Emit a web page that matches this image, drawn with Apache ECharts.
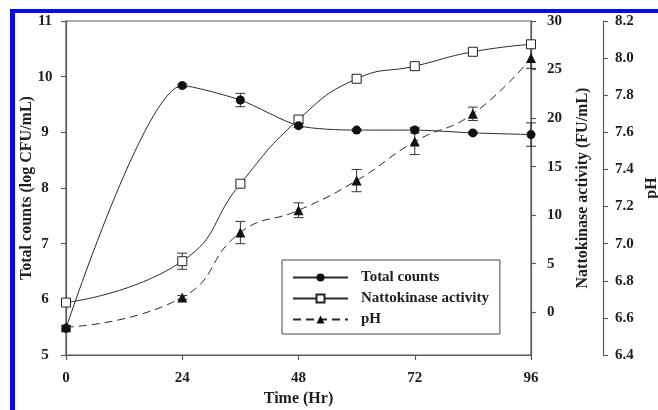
<!DOCTYPE html>
<html>
<head>
<meta charset="utf-8">
<script src="https://cdn.jsdelivr.net/npm/echarts@6/dist/echarts.min.js"></script>
<style>
  * { margin: 0; padding: 0; }
  html, body { background: #fff; overflow: hidden; }
  #main { width: 658px; height: 410px; }
</style>
</head>
<body>
<div id="main"></div>
<script>
// time points (Hr)
const hours = [0, 24, 36, 48, 60, 72, 84, 96]
// total counts, log CFU/mL (left axis)
const totalCounts = [5.48, 9.84, 9.58, 9.12, 9.04, 9.04, 8.99, 8.96]
const totalCountsErr = [0.03, 0.03, 0.12, 0.03, 0.02, 0.05, 0.02, 0.21]
// nattokinase activity, FU/mL (first right axis)
const nattokinase = [1.0, 5.26, 13.24, 19.85, 24.05, 25.35, 26.83, 27.6]
const nattokinaseErr = [0.2, 0.83, 0.3, 0.3, 0.3, 0.3, 0.2, 0.3]
// pH (second right axis)
const pH = [6.55, 6.71, 7.06, 7.18, 7.34, 7.55, 7.70, 8.00]
const pHErr = [0.01, 0.01, 0.06, 0.04, 0.06, 0.07, 0.036, 0.055]

const xTicks = [0, 24, 48, 72, 96]
const nattoTicks = [0, 5, 10, 15, 20, 25, 30]

const ink = '#1e1e1e'
const axisGray = '#5a5a5a'
const font = 'Liberation Serif'

const myChart = echarts.init(document.getElementById('main'))

function pairs (ys) {
  return hours.map((h, i) => [h, ys[i]])
}

function errorBars (yAxisIndex, mean, err) {
  return {
    type: 'custom',
    yAxisIndex: yAxisIndex,
    silent: true,
    z: 1,
    data: hours.map((h, i) => [h, mean[i] - err[i], mean[i] + err[i]]),
    encode: { x: 0, y: [1, 2] },
    renderItem: (params, api) => {
      const lo = api.coord([api.value(0), api.value(1)])
      const hi = api.coord([api.value(0), api.value(2)])
      const w = 5
      const style = { stroke: '#333', lineWidth: 1 }
      return {
        type: 'group',
        children: [
          { type: 'line', shape: { x1: lo[0], y1: lo[1], x2: hi[0], y2: hi[1] }, style: style },
          { type: 'line', shape: { x1: lo[0] - w, y1: lo[1], x2: lo[0] + w, y2: lo[1] }, style: style },
          { type: 'line', shape: { x1: hi[0] - w, y1: hi[1], x2: hi[0] + w, y2: hi[1] }, style: style }
        ]
      }
    }
  }
}

const axisLineStyle = { show: true, onZero: false, lineStyle: { color: axisGray, width: 1.2 } }
const tickStyle = { show: true, inside: false, length: 5, lineStyle: { color: axisGray, width: 1.2 } }
const labelStyle = { color: ink, fontFamily: font, fontWeight: 'bold', fontSize: 15 }
const nameStyle = { color: ink, fontFamily: font, fontWeight: 'bold', fontSize: 16 }

const option = {
  animation: false,
  backgroundColor: '#fff',
  graphic: [
    { type: 'rect', shape: { x: 10, y: 9, width: 648, height: 4 }, style: { fill: '#0a0af0' } },
    { type: 'rect', shape: { x: 10, y: 9, width: 5, height: 401 }, style: { fill: '#0a0af0' } }
  ],
  grid: {
    left: 66,
    right: 127,
    top: 21,
    bottom: 55,
    outerBoundsMode: 'none',
    containLabel: false,
    show: true,
    borderColor: axisGray,
    borderWidth: 1.2
  },
  legend: {
    orient: 'vertical',
    left: 282,
    top: 260,
    data: ['Total counts', 'Nattokinase activity', 'pH'],
    itemWidth: 55,
    itemHeight: 10,
    itemGap: 6,
    padding: [10, 11, 7, 10],
    borderColor: '#444',
    borderWidth: 1,
    textStyle: { color: ink, fontFamily: font, fontWeight: 'bold', fontSize: 15, padding: [0, 0, 0, 8] }
  },
  xAxis: {
    type: 'value',
    min: 0,
    max: 96,
    interval: 24,
    name: 'Time (Hr)',
    nameLocation: 'middle',
    nameGap: 36,
    nameMoveOverlap: false,
    nameTextStyle: nameStyle,
    axisLine: axisLineStyle,
    axisTick: tickStyle,
    axisLabel: Object.assign({ margin: 16, customValues: xTicks }, labelStyle),
    splitLine: { show: false }
  },
  yAxis: [
    {
      type: 'value',
      position: 'left',
      min: 5,
      max: 11,
      interval: 1,
      name: 'Total counts (log CFU/mL)',
      nameLocation: 'middle',
      nameGap: 31,
      nameRotate: 90,
      nameMoveOverlap: false,
      nameTextStyle: nameStyle,
      axisLine: axisLineStyle,
      axisTick: tickStyle,
      axisLabel: Object.assign({ margin: 21, align: 'center' }, labelStyle),
      splitLine: { show: false }
    },
    {
      type: 'value',
      position: 'right',
      min: -4.4,
      max: 30,
      name: 'Nattokinase activity (FU/mL)',
      nameLocation: 'middle',
      nameGap: 44,
      nameRotate: 90,
      nameMoveOverlap: false,
      nameTextStyle: nameStyle,
      axisLine: axisLineStyle,
      axisTick: Object.assign({ customValues: nattoTicks }, tickStyle),
      axisLabel: Object.assign({ margin: 16, customValues: nattoTicks }, labelStyle),
      splitLine: { show: false }
    },
    {
      type: 'value',
      position: 'right',
      offset: 72,
      min: 6.4,
      max: 8.2,
      interval: 0.2,
      name: 'pH',
      nameLocation: 'middle',
      nameGap: 41,
      nameRotate: 90,
      nameMoveOverlap: false,
      nameTextStyle: nameStyle,
      axisLine: axisLineStyle,
      axisTick: tickStyle,
      axisLabel: Object.assign({ margin: 12, formatter: v => v.toFixed(1) }, labelStyle),
      splitLine: { show: false }
    }
  ],
  series: [
    errorBars(0, totalCounts, totalCountsErr),
    errorBars(1, nattokinase, nattokinaseErr),
    errorBars(2, pH, pHErr),
    {
      name: 'pH',
      type: 'line',
      yAxisIndex: 2,
      data: pairs(pH),
      smooth: 0.5,
      symbol: 'triangle',
      symbolSize: 10,
      z: 3,
      lineStyle: { color: '#2a2a2a', width: 1, type: [8, 5] },
      itemStyle: { color: '#111', borderColor: '#111', borderWidth: 0 }
    },
    {
      name: 'Nattokinase activity',
      type: 'line',
      yAxisIndex: 1,
      data: pairs(nattokinase),
      smooth: 0.5,
      symbol: 'rect',
      symbolSize: 9,
      z: 4,
      lineStyle: { color: '#2a2a2a', width: 1 },
      itemStyle: { color: '#fff', borderColor: '#222', borderWidth: 1 }
    },
    {
      name: 'Total counts',
      type: 'line',
      yAxisIndex: 0,
      data: pairs(totalCounts),
      smooth: 0.25,
      symbol: 'circle',
      symbolSize: 9,
      z: 5,
      lineStyle: { color: '#2a2a2a', width: 1 },
      itemStyle: { color: '#111', borderColor: '#111', borderWidth: 0 }
    }
  ]
}

myChart.setOption(option)
</script>
</body>
</html>
